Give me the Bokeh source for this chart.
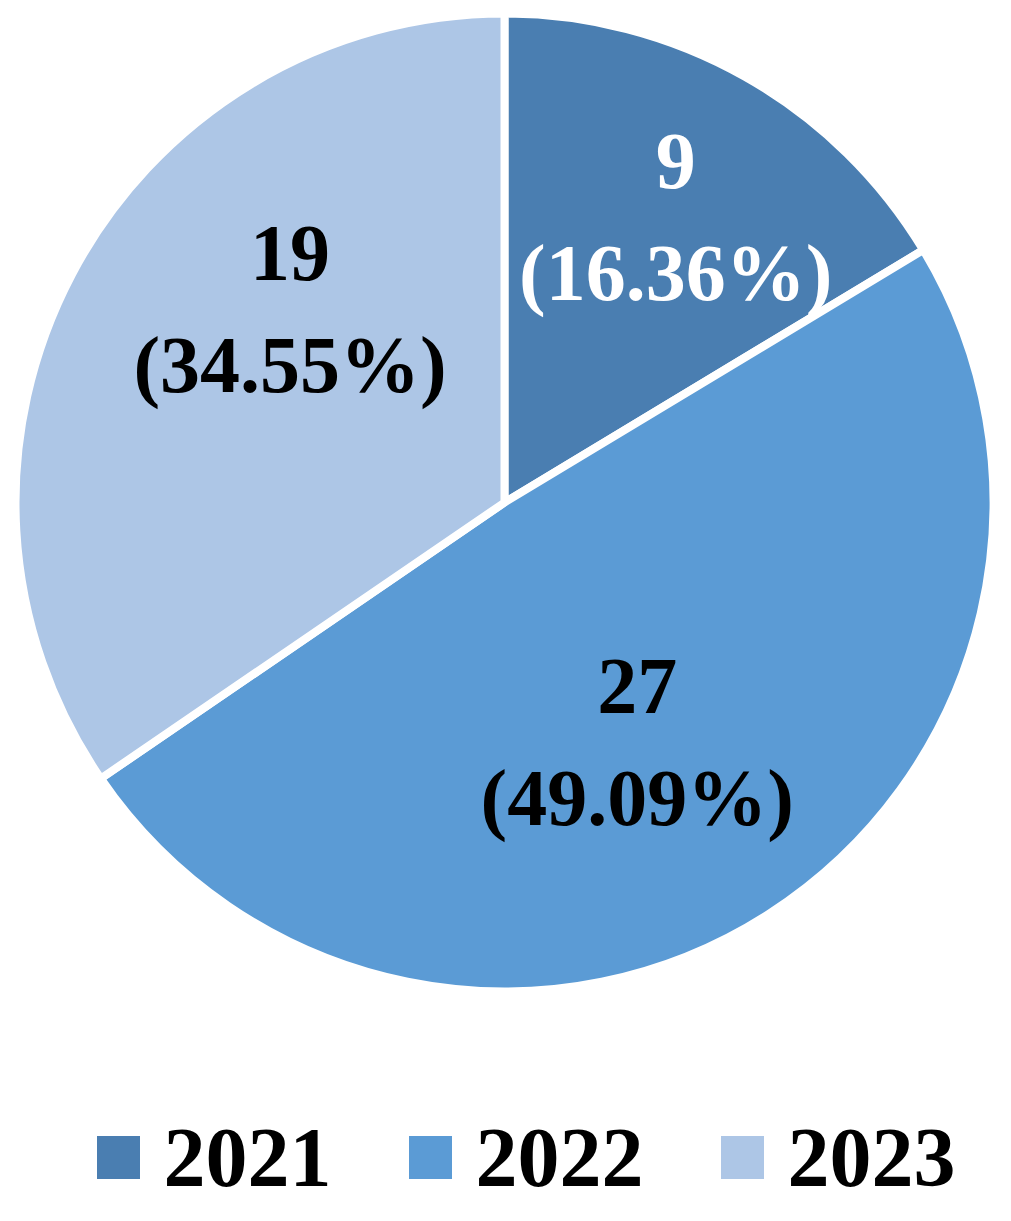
import math
from bokeh.plotting import figure
from bokeh.models import Range1d
from bokeh.core.properties import value
from bokeh.embed import file_html
from bokeh.resources import INLINE

# ---- data ----
years = ["2021", "2022", "2023"]
counts = [9, 27, 19]
percent_labels = ["(16.36%)", "(49.09%)", "(34.55%)"]
colors = ["#4A7EB1", "#5B9BD5", "#ADC6E6"]
label_colors = ["white", "black", "black"]

# ---- layout ----
W, H = 995, 1205
def py(y):  # page pixel y -> data y
    return H - (y - 3)
def px(x):
    return x

cx, cy, R = px(504), py(505), 489
label_angle_deg = [59, -61, 138]
label_r = [0.68, 0.56, 0.59]
FONT = value("Liberation Serif")

p = figure(width=W, height=H, output_backend="svg", toolbar_location=None,
           x_range=Range1d(0, W), y_range=Range1d(0, H), min_border=0)
p.axis.visible = False
p.grid.visible = False
p.outline_line_color = None
p.background_fill_color = "white"
p.border_fill_color = "white"

total = sum(counts)
start = math.pi / 2
for i, c in enumerate(counts):
    sweep = 2 * math.pi * c / total
    end = start - sweep
    p.wedge(x=[cx], y=[cy], radius=R, start_angle=end, end_angle=start,
            fill_color=colors[i], line_color="white", line_width=8)
    start = end

for i in range(len(counts)):
    a = math.radians(label_angle_deg[i])
    lx = cx + label_r[i] * R * math.cos(a)
    ly = cy + label_r[i] * R * math.sin(a)
    p.text(x=[lx], y=[ly + 56], text=[str(counts[i])], text_font=FONT,
           text_font_style="bold", text_font_size="80px", text_color=label_colors[i],
           text_align="center", text_baseline="middle")
    p.text(x=[lx], y=[ly - 56], text=[percent_labels[i]], text_font=FONT,
           text_font_style="bold", text_font_size="80px", text_color=label_colors[i],
           text_align="center", text_baseline="middle")

# legend
leg_y = py(1160)
for i, yr in enumerate(years):
    sx = px(118) + i * 312
    p.rect(x=[sx], y=[leg_y], width=43, height=43, fill_color=colors[i], line_color=None)
    p.text(x=[sx + 45], y=[leg_y], text=[yr], text_font=FONT, text_font_style="bold",
           text_font_size="84px", text_color="black", text_align="left",
           text_baseline="middle")

open("out.html", "w").write(file_html(p, INLINE))
